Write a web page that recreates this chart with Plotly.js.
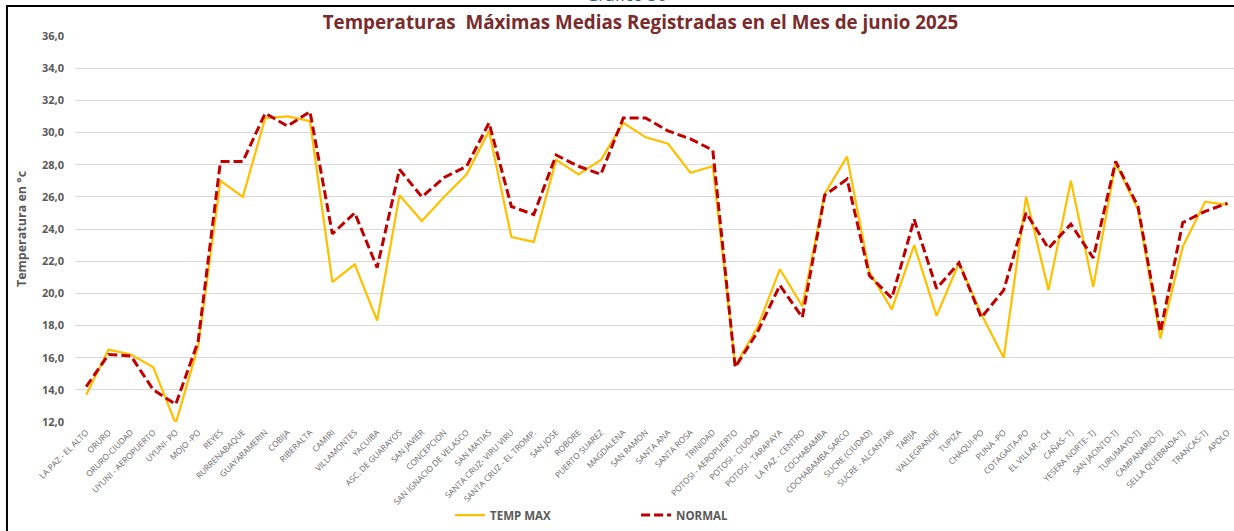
<!DOCTYPE html>
<html>
<head>
<meta charset="utf-8">
<script src="https://cdn.plot.ly/plotly-3.0.1.min.js"></script>
<style>
  html, body { margin: 0; padding: 0; background: #fff; }
  #chart { width: 1234px; height: 531px; }
</style>
</head>
<body>
<div id="chart"></div>
<script>
const estaciones = [
  'LA PAZ - EL ALTO', 'ORURO', 'ORURO-CIUDAD', 'UYUNI - AEROPUERTO', 'UYUNI- PO', 'MOJO -PO',
  'REYES', 'RURRENABAQUE', 'GUAYARAMERIN', 'COBIJA', 'RIBERALTA', 'CAMIRI', 'VILLAMONTES',
  'YACUIBA', 'ASC. DE GUARAYOS', 'SAN JAVIER', 'CONCEPCION', 'SAN IGNACIO DE VELASCO',
  'SAN MATIAS', 'SANTA CRUZ- VIRU VIRU', 'SANTA CRUZ - EL TROMP.', 'SAN JOSE', 'ROBORE',
  'PUERTO SUAREZ', 'MAGDALENA', 'SAN RAMON', 'SANTA ANA', 'SANTA ROSA', 'TRINIDAD',
  'POTOSI - AEROPUERTO', 'POTOSI - CIUDAD', 'POTOSI - TARAPAYA', 'LA PAZ - CENTRO',
  'COCHABAMBA', 'COCHABAMBA SARCO', 'SUCRE (CIUDAD)', 'SUCRE - ALCANTARI', 'TARIJA',
  'VALLEGRANDE', 'TUPIZA', 'CHAQUI-PO', 'PUNA -PO', 'COTAGAITA-PO', 'EL VILLAR - CH',
  'CAÑAS- TJ', 'YESERA NORTE- TJ', 'SAN JACINTO-TJ', 'TURUMAYO-TJ', 'CAMPANARIO-TJ',
  'SELLA QUEBRADA-TJ', 'TRANCAS-TJ', 'APOLO'
];

const tempMax = [
  13.7, 16.5, 16.2, 15.4, 11.9, 16.7, 27.0, 26.0, 30.9, 31.0, 30.7, 20.7, 21.8,
  18.3, 26.1, 24.5, 26.0, 27.4, 30.1, 23.5, 23.2, 28.3, 27.4, 28.3, 30.6, 29.7,
  29.3, 27.5, 27.9, 15.5, 17.9, 21.5, 19.2, 26.2, 28.5, 21.3, 19.0, 23.0, 18.6,
  21.9, 18.7, 16.0, 26.0, 20.2, 27.0, 20.4, 28.1, 25.2, 17.2, 22.9, 25.7, 25.5
];

const normal = [
  14.2, 16.2, 16.1, 14.0, 13.1, 17.0, 28.2, 28.2, 31.2, 30.4, 31.3, 23.7, 25.0,
  21.6, 27.7, 26.0, 27.2, 27.9, 30.6, 25.4, 24.9, 28.6, 27.9, 27.4, 30.9, 30.9,
  30.1, 29.6, 28.9, 15.4, 17.6, 20.5, 18.5, 26.1, 27.1, 21.1, 19.7, 24.6, 20.3,
  21.9, 18.5, 20.2, 25.0, 22.8, 24.3, 22.2, 28.2, 25.4, 17.6, 24.4, 25.1, 25.6
];

const yTicks = [12, 14, 16, 18, 20, 22, 24, 26, 28, 30, 32, 34, 36];

const gray = '#595959';
const font = 'Open Sans, Arial, sans-serif';

const traces = [
  {
    x: estaciones, y: tempMax, type: 'scatter', mode: 'lines', name: 'TEMP MAX',
    line: { color: '#FFC000', width: 2.25 }
  },
  {
    x: estaciones, y: normal, type: 'scatter', mode: 'lines', name: 'NORMAL',
    line: { color: '#C00000', width: 3, dash: '9px,4px' }
  }
];

const layout = {
  width: 1234,
  height: 531,
  margin: { l: 75, r: 0, t: 36, b: 109 },
  paper_bgcolor: '#fff',
  plot_bgcolor: '#fff',
  separators: ',.',
  font: { family: font, color: gray },
  title: {
    text: '<b>Temperaturas  Máximas Medias Registradas en el Mes de junio 2025</b>',
    font: { family: font, size: 18.8, color: '#7A2B2B' },
    x: 0.519, xanchor: 'center', y: 0.958, yanchor: 'middle'
  },
  xaxis: {
    type: 'category',
    range: [-0.5, 51.29],
    tickangle: -45,
    tickfont: { family: font, size: 8.3, color: '#666666' },
    showgrid: false,
    showline: false,
    ticks: '',
    ticklabelstandoff: 3,
    fixedrange: true
  },
  yaxis: {
    range: [12, 36],
    tickvals: yTicks,
    tickformat: '.1f',
    tickfont: { family: font, size: 11, color: gray, weight: 'bold' },
    gridcolor: '#D9D9D9',
    gridwidth: 1,
    zeroline: false,
    showline: false,
    ticks: '',
    ticklabelstandoff: 10,
    title: {
      text: '<b>Temperatura en °c</b>',
      font: { family: font, size: 12.5, color: gray },
      standoff: 12
    }
  },
  showlegend: true,
  legend: {
    orientation: 'h',
    x: 0.3236, xanchor: 'left',
    y: -0.241, yanchor: 'middle',
    entrywidth: 141, entrywidthmode: 'pixels',
    font: { family: font, size: 11.5, color: gray, weight: 'bold' },
    bgcolor: 'rgba(0,0,0,0)'
  },
  shapes: [
    {
      type: 'rect', xref: 'paper', yref: 'paper',
      x0: -0.0587, x1: 1.1, y0: -0.5, y1: 1.0777,
      line: { color: '#000', width: 2 }, fillcolor: 'rgba(0,0,0,0)'
    }
  ],
  annotations: [
    {
      text: 'Gráfico 30', xref: 'paper', yref: 'paper',
      x: 0.476, xanchor: 'center', y: 1.073, yanchor: 'bottom',
      showarrow: false, font: { family: font, size: 17, color: '#2E5597' }
    }
  ]
};

Plotly.newPlot('chart', traces, layout, { displayModeBar: false, staticPlot: true });
</script>
</body>
</html>
